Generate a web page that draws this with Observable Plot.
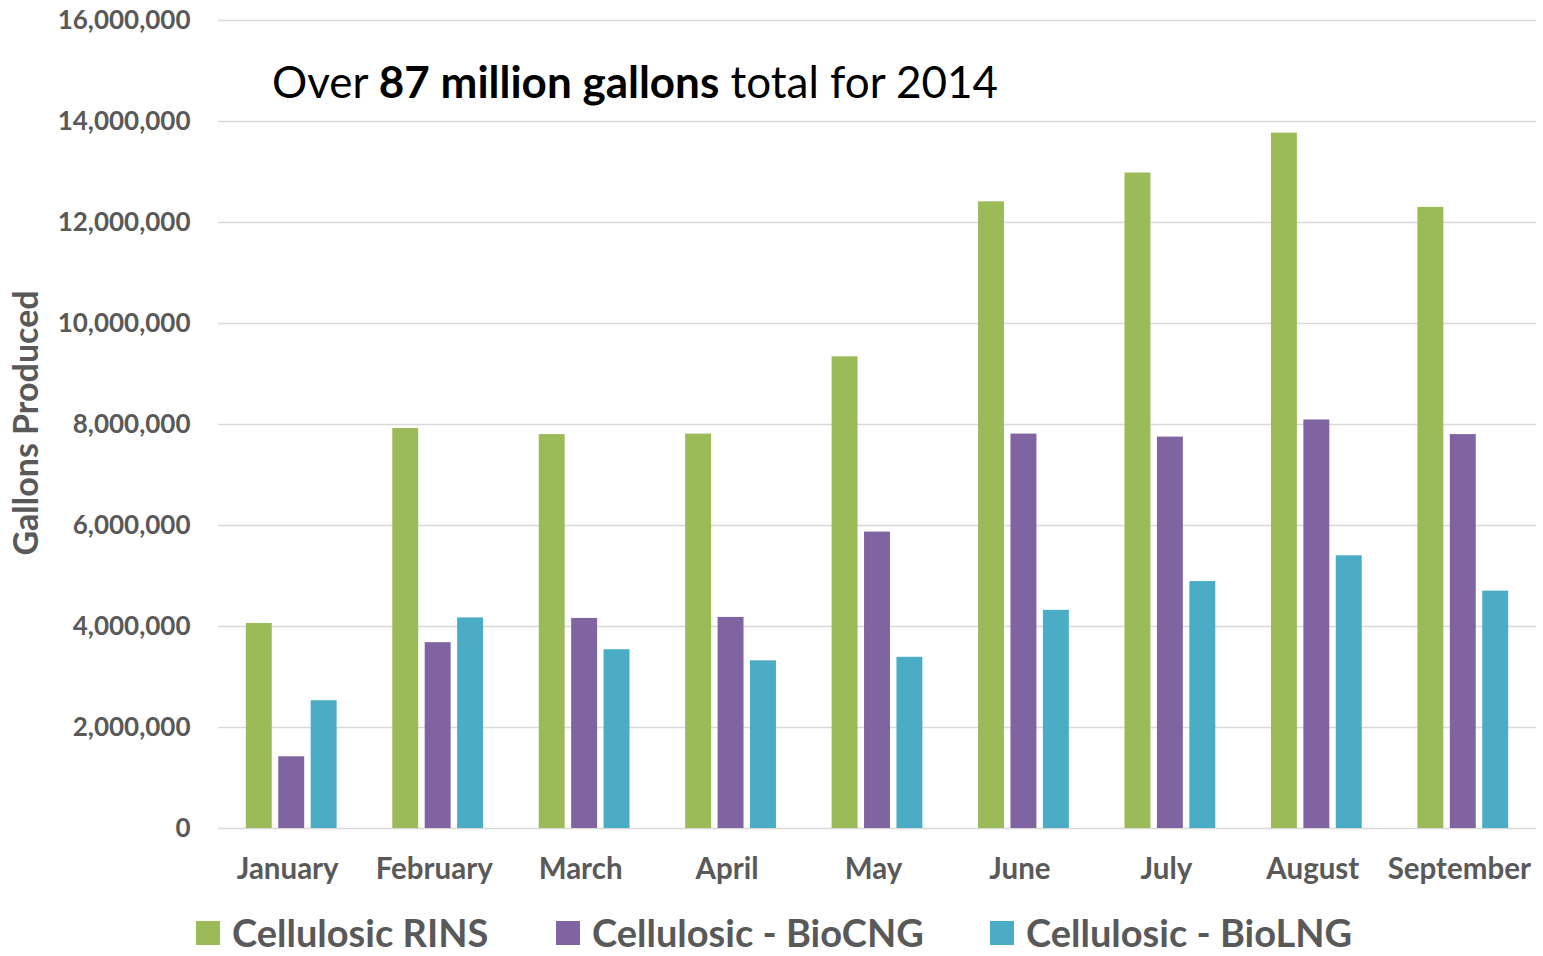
<!DOCTYPE html>
<html>
<head>
<meta charset="utf-8">
<script src="https://cdn.jsdelivr.net/npm/d3@7"></script>
<script src="https://cdn.jsdelivr.net/npm/@observablehq/plot@0.6"></script>
<style>
  html, body { margin: 0; padding: 0; background: #fff; }
  #chart { position: relative; width: 1543px; height: 956px; font-family: Lato, "Open Sans", sans-serif; color: #595959; }
  #chart svg { position: absolute; left: 0; top: 0; }
  #ylabel { position: absolute; left: 25px; top: 423px; transform: translate(-50%, -50%) rotate(-90deg); font-weight: 700; font-size: 34px; white-space: nowrap; color: #595959; line-height: 1; }
  #headline { position: absolute; left: 272px; top: 59px; font-size: 44px; color: #000; white-space: nowrap; line-height: 1; }
  .legend-item { position: absolute; top: 913px; display: flex; align-items: center; font-weight: 700; font-size: 38px; color: #595959; line-height: 1; white-space: nowrap; }
  .legend-item .swatch { width: 24px; height: 24px; margin-right: 12px; margin-top: 2px; }
</style>
</head>
<body>
<div id="chart"></div>
<script>
// Monthly cellulosic production, 2014 (gallons)
const months = ["January", "February", "March", "April", "May", "June", "July", "August", "September"];
const seriesNames = ["Cellulosic RINS", "Cellulosic - BioCNG", "Cellulosic - BioLNG"];
const rins   = [4060000, 7920000, 7800000, 7810000, 9340000, 12410000, 12980000, 13770000, 12300000];
const bioCNG = [1420000, 3680000, 4160000, 4180000, 5870000, 7810000, 7750000, 8090000, 7800000];
const bioLNG = [2530000, 4170000, 3540000, 3320000, 3390000, 4320000, 4890000, 5400000, 4700000];
const yTicks = [0, 2000000, 4000000, 6000000, 8000000, 10000000, 12000000, 14000000, 16000000];
const seriesColors = ["#9BBB59", "#8064A2", "#4BACC6"];

const seriesValues = [rins, bioCNG, bioLNG];
const rows = months.flatMap((m, i) =>
  seriesNames.map((s, j) => ({month: m, series: s, value: seriesValues[j][i]}))
);

// Shared frame so the two layers line up exactly
const frame = {
  width: 1543,
  height: 900,
  marginLeft: 218,
  marginRight: 7,
  marginTop: 20,
  marginBottom: 72,
  style: {fontFamily: "Lato, 'Open Sans', sans-serif", background: "transparent", overflow: "visible"}
};

// Back layer: full-width gridlines and the value axis
const grid = Plot.plot({
  ...frame,
  x: {domain: [0, 1], axis: null},
  y: {domain: [0, 16000000], label: null},
  marks: [
    Plot.ruleY(yTicks, {stroke: "#d9d9d9", strokeWidth: 1.6}),
    Plot.axisY({
      ticks: yTicks, tickFormat: d3.format(","), tickSize: 0, tickPadding: 28,
      fontSize: 26, fontWeight: "bold", fill: "#595959", label: null
    })
  ]
});

// Front layer: grouped bars, one facet per month
const bars = Plot.plot({
  ...frame,
  fx: {domain: months, paddingInner: 0.38, paddingOuter: 0.19, round: false, label: null},
  x: {domain: seriesNames, paddingInner: 0.2, paddingOuter: 0, round: false, axis: null},
  y: {domain: [0, 16000000], axis: null},
  color: {domain: seriesNames, range: seriesColors},
  marks: [
    Plot.barY(rows, {fx: "month", x: "series", y: "value", fill: "series"}),
    Plot.axisFx({
      anchor: "bottom", tickSize: 0, tickPadding: 30, dx: -4,
      fontSize: 29.5, fontWeight: "bold", fill: "#595959", label: null
    })
  ]
});

const root = document.getElementById("chart");
root.appendChild(grid);
root.appendChild(bars);

const ylabel = document.createElement("div");
ylabel.id = "ylabel";
ylabel.textContent = "Gallons Produced";
root.appendChild(ylabel);

const headline = document.createElement("div");
headline.id = "headline";
headline.innerHTML = "Over <b>87 million gallons</b> total for 2014";
root.appendChild(headline);

// Legend entries, placed left to right under the month labels
const legendLefts = [196, 556, 990];
seriesNames.forEach((name, i) => {
  const item = document.createElement("div");
  item.className = "legend-item";
  item.style.left = legendLefts[i] + "px";
  const sw = document.createElement("div");
  sw.className = "swatch";
  sw.style.background = seriesColors[i];
  const label = document.createElement("span");
  label.textContent = name;
  item.appendChild(sw);
  item.appendChild(label);
  root.appendChild(item);
});
</script>
</body>
</html>
